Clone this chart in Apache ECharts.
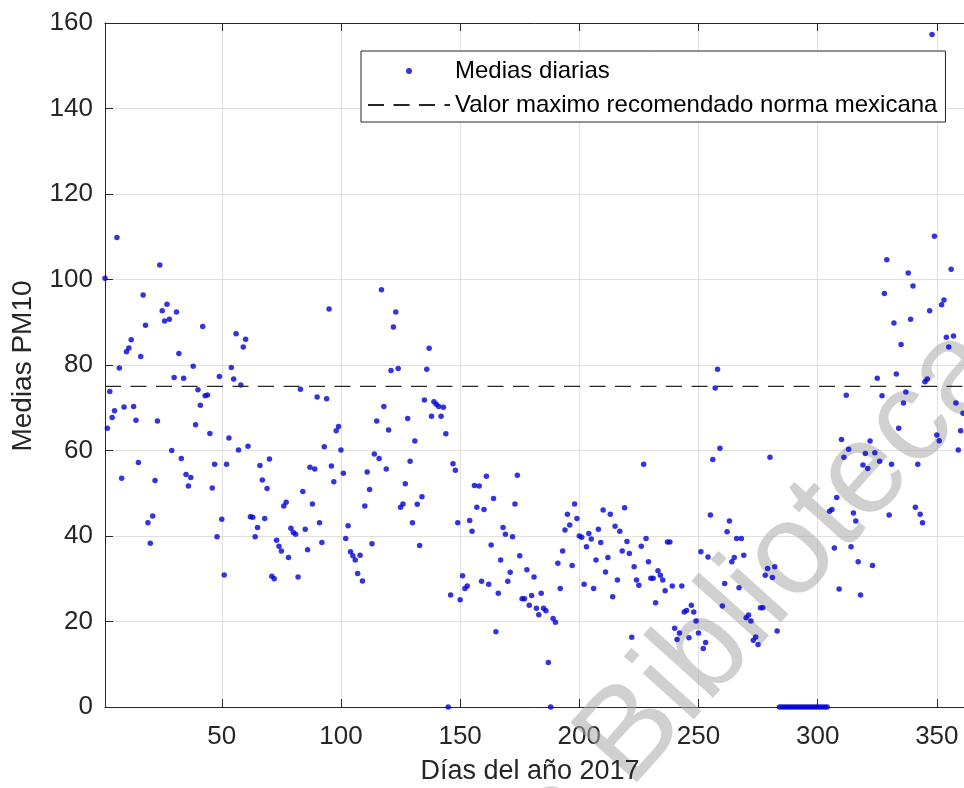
<!DOCTYPE html>
<html>
<head>
<meta charset="utf-8">
<script src="https://cdn.jsdelivr.net/npm/echarts@6/dist/echarts.min.js"></script>
<style>html,body{margin:0;padding:0;background:#fff}#c{width:964px;height:788px}</style>
</head>
<body>
<div id="c"></div>
<script>
// Day of year 2017 (x) and daily PM10 mean (y)
var days = [1,2,3,4,5,6,7,8,9,10,11,12,13,14,15,16,17,18,19,20,21,22,23,24,25,26,27,28,29,30,
31,32,33,34,35,36,37,38,39,40,41,42,43,44,45,46,47,48,49,50,51,52,53,54,55,56,57,58,59,60,
61,62,63,64,65,66,67,68,69,70,71,72,73,74,75,76,77,78,79,80,81,82,83,84,85,86,87,88,89,90,
91,92,93,94,95,96,97,98,99,100,101,102,103,104,105,106,107,108,109,110,111,112,113,114,115,116,117,118,119,120,
121,122,123,124,125,126,127,128,129,130,131,132,133,134,135,136,137,138,139,140,141,142,143,144,145,146,147,148,149,150,
151,152,153,154,155,156,157,158,159,160,161,162,163,164,165,166,167,168,169,170,171,172,173,174,175,176,177,178,179,180,
181,182,183,184,185,186,187,188,189,190,191,192,193,194,195,196,197,198,199,200,201,202,203,204,205,206,207,208,209,210,
211,212,213,214,215,216,217,218,219,220,221,222,223,224,225,226,227,228,229,230,231,232,233,234,235,236,237,238,239,240,
241,242,243,244,245,246,247,248,249,250,251,252,253,254,255,256,257,258,259,260,261,262,263,264,265,266,267,268,269,270,
271,272,273,274,275,276,277,278,279,280,281,282,283,284,285,286,287,288,289,290,291,292,293,294,295,296,297,298,299,300,
301,302,303,304,305,306,307,308,309,310,311,312,313,314,315,316,317,318,319,320,321,322,323,324,325,326,327,328,329,330,
331,332,333,334,335,336,337,338,339,340,341,342,343,344,345,346,347,348,349,350,351,352,353,354,355,356,357,358,359,360,361];
var pm10 = [100.3,65.2,73.8,67.7,69.3,109.8,79.3,53.5,70.2,83.1,84.0,85.9,70.3,67.1,57.2,82.0,96.4,89.3,43.1,38.3,
44.7,53.0,66.9,103.4,92.7,90.3,94.2,90.7,60.0,77.1,92.4,82.7,58.1,76.9,54.4,51.7,53.7,79.7,66.0,74.2,
70.6,89.0,72.8,73.0,64.0,51.2,56.8,39.8,77.3,43.9,30.9,56.8,62.9,79.4,76.7,87.3,60.1,75.3,84.2,86.0,
61.0,44.5,44.4,39.8,42.0,56.5,53.1,44.1,51.1,58.0,30.6,30.0,39.0,37.6,36.5,47.0,47.9,35.0,41.8,40.8,
40.4,30.4,74.3,50.4,41.6,36.8,56.1,47.5,55.7,72.5,43.1,38.5,60.9,72.1,93.1,56.4,52.7,64.6,65.6,60.1,
54.7,39.4,42.4,36.3,35.4,34.4,31.2,35.5,29.5,47.0,55.0,50.9,38.2,59.2,66.9,58.1,97.6,70.3,55.7,64.8,
78.7,88.9,92.4,79.2,46.7,47.5,52.2,67.5,57.5,43.1,62.2,47.4,37.8,49.2,71.8,79.0,83.9,68.0,71.4,70.8,
70.3,68.0,70.1,63.9,0,26.2,56.9,55.4,43.1,25.1,30.7,27.7,28.3,43.6,41.1,51.8,46.7,51.7,29.4,46.2,
54.0,28.7,37.9,48.8,17.6,26.6,34.4,42.0,40.4,29.4,31.5,39.8,47.5,54.2,35.4,25.3,25.3,32.1,23.8,26.1,
30.4,23.1,21.6,26.6,23.1,22.5,10.4,0,20.7,19.8,33.6,27.7,36.5,41.4,45.1,42.6,33.1,47.5,44.1,40.0,
39.7,28.7,37.5,40.6,39.3,27.7,34.4,41.6,38.5,46.1,31.6,35.0,45.1,25.8,42.3,29.7,41.1,36.5,46.6,38.7,
35.9,16.3,32.8,29.7,28.5,37.6,56.8,39.4,34.0,30.1,30.1,24.4,31.9,30.8,29.7,27.2,38.6,38.6,28.3,18.4,
15.8,17.3,28.3,22.2,22.6,16.2,23.8,22.2,20.1,17.3,36.3,13.7,15.1,35.1,44.9,57.9,74.6,79.0,60.5,23.6,
28.9,41.0,43.5,34.0,35.0,39.4,27.9,39.4,35.5,20.9,21.5,20.1,15.6,16.4,14.6,23.2,23.2,30.8,32.4,58.4,
30.3,32.8,17.8,0,0,0,0,0,0,0,0,0,0,0,0,0,0,0,0,0,
0,0,0,0,45.8,46.2,37.2,49.0,27.6,62.6,58.4,72.9,60.3,37.5,45.4,43.5,34.0,26.2,56.6,59.3,
55.8,62.2,33.1,59.5,76.9,57.5,72.8,96.7,104.6,44.9,56.8,89.8,77.9,65.2,84.8,71.1,73.7,101.5,90.7,98.5,
46.7,56.8,45.1,43.1,76.1,76.7,92.7,157.3,110.1,63.6,62.3,94.1,95.2,86.5,84.2,102.4,86.8,71.1,60.1,64.6,68.7];
var limitDays = [1, 365];
var limitValue = 75;
var xTicks = [50, 100, 150, 200, 250, 300, 350];
var seriesNames = ['Medias diarias', 'Valor maximo recomendado norma mexicana'];
var xTitle = 'Días del año 2017';
var yTitle = 'Medias PM10';
var watermark = 'de Bibliotecas';

var pts = days.map(function (d, i) { return [d, pm10[i]]; });
var limitPts = limitDays.map(function (d) { return [d, limitValue]; });

var FONT = 'Liberation Sans, Arial, Helvetica, sans-serif';
var AX = '#262626';
var GRIDC = '#e0e0e0';

var chart = echarts.init(document.getElementById('c'), null, {renderer: 'canvas'});
chart.setOption({
  animation: false,
  backgroundColor: '#fff',
  grid: {left: 105, right: 0, top: 23, bottom: 81, containLabel: false},
  xAxis: [{
    type: 'value', position: 'bottom', min: 1, max: 361.4,
    axisLine: {show: true, onZero: false, lineStyle: {color: AX, width: 1}},
    axisTick: {show: true, inside: true, length: 8, customValues: xTicks, lineStyle: {color: AX}},
    axisLabel: {show: true, customValues: xTicks, fontSize: 26, fontFamily: FONT, color: AX, margin: 17},
    splitLine: {show: true, lineStyle: {color: GRIDC, width: 1}}
  }, {
    type: 'value', position: 'top', min: 1, max: 361.4,
    axisLine: {show: true, onZero: false, lineStyle: {color: AX, width: 1}},
    axisTick: {show: true, inside: true, length: 8, customValues: xTicks, lineStyle: {color: AX}},
    axisLabel: {show: false},
    splitLine: {show: false}
  }],
  yAxis: [{
    type: 'value', min: 0, max: 160, interval: 20, position: 'left',
    axisLine: {show: true, onZero: false, lineStyle: {color: AX, width: 1}},
    axisTick: {show: true, inside: true, length: 8, lineStyle: {color: AX}},
    axisLabel: {fontSize: 26, fontFamily: FONT, color: AX, margin: 12},
    splitLine: {show: true, lineStyle: {color: GRIDC, width: 1}}
  }],
  legend: {
    orient: 'vertical', left: 361, top: 51,
    itemWidth: 82, itemHeight: 6, itemGap: 10,
    padding: [8, 8, 5, 6],
    borderColor: AX, borderWidth: 1, backgroundColor: '#fff',
    textStyle: {fontSize: 24, fontFamily: FONT, color: '#000'},
    data: [
      {name: seriesNames[0]},
      {name: seriesNames[1], itemStyle: {color: 'rgba(0,0,0,0)', borderColor: 'rgba(0,0,0,0)', borderWidth: 0}}
    ]
  },
  graphic: [
    {type: 'text', x: 530, y: 772, z: 10,
     style: {text: xTitle, font: '27px ' + FONT, fill: AX, align: 'center', verticalAlign: 'middle'}},
    {type: 'text', x: 23, y: 366, rotation: Math.PI / 2, z: 10,
     style: {text: yTitle, font: '28px ' + FONT, fill: AX, align: 'center', verticalAlign: 'middle'}},
    {type: 'text', x: 434, y: 857, rotation: 48 * Math.PI / 180, z: 1, silent: true,
     style: {text: watermark, font: '130px ' + FONT, fill: 'rgba(170,170,170,0.55)', align: 'left', verticalAlign: 'alphabetic'}}
  ],
  series: [{
    name: seriesNames[0], type: 'scatter', data: pts, symbol: 'circle', symbolSize: 5.5,
    clip: false, z: 3,
    itemStyle: {color: '#0000d8'}
  }, {
    name: seriesNames[1], type: 'line', data: limitPts, symbol: 'none', showSymbol: false,
    z: 4,
    lineStyle: {color: '#262626', width: 1.4, type: [16, 9.5]},
    itemStyle: {color: '#262626'}
  }]
});
</script>
</body>
</html>
